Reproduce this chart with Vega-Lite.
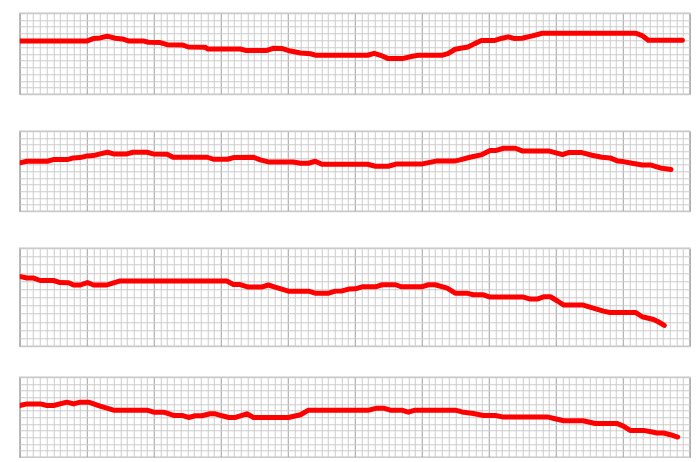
{
  "$schema": "https://vega.github.io/schema/vega-lite/v6.json",
  "padding": {"left": 18.75, "top": 12.25, "right": 0, "bottom": 0},
  "background": "white",
  "config": {
    "view": {"stroke": "#c4c4c4", "strokeWidth": 1.5},
    "axis": {"labels": false, "ticks": false, "domain": false, "title": null, "grid": true, "gridWidth": 1, "gridOpacity": 1, "tickSize": 0, "labelPadding": 0, "minExtent": 0, "maxExtent": 0, "offset": 0}
  },
  "datasets": {
    "p1": [
      {"t": 0, "v": 7.9}, {"t": 10.07, "v": 7.9}, {"t": 10.97, "v": 8.25}, {"t": 12.0, "v": 8.35}, {"t": 13.06, "v": 8.6}, {"t": 14.25, "v": 8.3}, {"t": 15.3, "v": 8.2}, {"t": 16.2, "v": 7.9}, {"t": 18.4, "v": 7.9}, {"t": 19.2, "v": 7.7}, {"t": 20.97, "v": 7.65}, {"t": 22.0, "v": 7.35}, {"t": 24.25, "v": 7.3}, {"t": 25.15, "v": 7.0}, {"t": 27.7, "v": 6.95}, {"t": 28.1, "v": 6.7}, {"t": 32.9, "v": 6.7}, {"t": 33.7, "v": 6.5}, {"t": 36.9, "v": 6.5}, {"t": 37.8, "v": 6.8}, {"t": 39.2, "v": 6.77}, {"t": 40.4, "v": 6.4}, {"t": 41.9, "v": 6.1}, {"t": 43.4, "v": 6.0}, {"t": 44.1, "v": 5.78}, {"t": 51.9, "v": 5.78}, {"t": 52.9, "v": 6.07}, {"t": 54.1, "v": 5.68}, {"t": 55.0, "v": 5.28}, {"t": 57.1, "v": 5.28}, {"t": 58.6, "v": 5.63}, {"t": 59.5, "v": 5.78}, {"t": 63.1, "v": 5.78}, {"t": 63.9, "v": 6.03}, {"t": 65.0, "v": 6.67}, {"t": 66.0, "v": 6.86}, {"t": 66.9, "v": 7.0}, {"t": 67.9, "v": 7.5}, {"t": 68.9, "v": 7.95}, {"t": 70.8, "v": 7.95}, {"t": 72.0, "v": 8.3}, {"t": 72.9, "v": 8.5}, {"t": 73.9, "v": 8.25}, {"t": 74.99, "v": 8.3}, {"t": 76.5, "v": 8.65}, {"t": 77.99, "v": 9.04}, {"t": 91.9, "v": 9.04}, {"t": 92.9, "v": 8.7}, {"t": 93.8, "v": 8.0}, {"t": 98.9, "v": 8.0}
    ],
    "p2": [
      {"t": 0, "v": 7.26}, {"t": 1.1, "v": 7.5}, {"t": 4.1, "v": 7.5}, {"t": 5.0, "v": 7.75}, {"t": 7.1, "v": 7.75}, {"t": 8.0, "v": 8.0}, {"t": 9.0, "v": 8.05}, {"t": 10.1, "v": 8.3}, {"t": 11.0, "v": 8.35}, {"t": 12.0, "v": 8.6}, {"t": 13.1, "v": 8.85}, {"t": 14.0, "v": 8.6}, {"t": 16.0, "v": 8.6}, {"t": 16.9, "v": 8.85}, {"t": 19.0, "v": 8.85}, {"t": 19.9, "v": 8.6}, {"t": 22.0, "v": 8.55}, {"t": 22.9, "v": 8.1}, {"t": 28.0, "v": 8.1}, {"t": 28.9, "v": 7.8}, {"t": 31.0, "v": 7.8}, {"t": 31.9, "v": 8.05}, {"t": 34.9, "v": 8.1}, {"t": 35.9, "v": 7.7}, {"t": 37.1, "v": 7.4}, {"t": 40.8, "v": 7.4}, {"t": 41.9, "v": 7.2}, {"t": 43.1, "v": 7.2}, {"t": 44.1, "v": 7.5}, {"t": 45.1, "v": 7.05}, {"t": 51.9, "v": 7.05}, {"t": 53.1, "v": 6.75}, {"t": 55.0, "v": 6.75}, {"t": 56.3, "v": 7.1}, {"t": 60.1, "v": 7.1}, {"t": 62.3, "v": 7.55}, {"t": 65.0, "v": 7.55}, {"t": 65.7, "v": 7.7}, {"t": 67.2, "v": 8.1}, {"t": 69.0, "v": 8.5}, {"t": 70.2, "v": 9.1}, {"t": 71.0, "v": 9.1}, {"t": 72.2, "v": 9.45}, {"t": 73.96, "v": 9.45}, {"t": 75.0, "v": 9.05}, {"t": 78.9, "v": 9.05}, {"t": 79.9, "v": 8.8}, {"t": 81.0, "v": 8.5}, {"t": 81.9, "v": 8.8}, {"t": 83.9, "v": 8.8}, {"t": 85.4, "v": 8.4}, {"t": 86.9, "v": 8.1}, {"t": 88.1, "v": 8.0}, {"t": 89.2, "v": 7.55}, {"t": 90.1, "v": 7.45}, {"t": 91.4, "v": 7.2}, {"t": 92.9, "v": 6.95}, {"t": 94.1, "v": 6.95}, {"t": 95.6, "v": 6.5}, {"t": 97.2, "v": 6.25}
    ],
    "p3": [
      {"t": 0, "v": 8.55}, {"t": 1.07, "v": 8.35}, {"t": 2.06, "v": 8.35}, {"t": 3.06, "v": 8.05}, {"t": 5.04, "v": 8.05}, {"t": 6.04, "v": 7.8}, {"t": 7.3, "v": 7.78}, {"t": 8.03, "v": 7.5}, {"t": 9.03, "v": 7.5}, {"t": 10.1, "v": 7.8}, {"t": 11.0, "v": 7.5}, {"t": 13.0, "v": 7.5}, {"t": 14.0, "v": 7.77}, {"t": 15.0, "v": 8.0}, {"t": 30.9, "v": 8.0}, {"t": 31.9, "v": 7.57}, {"t": 32.9, "v": 7.55}, {"t": 34.1, "v": 7.25}, {"t": 36.1, "v": 7.25}, {"t": 37.1, "v": 7.5}, {"t": 38.1, "v": 7.25}, {"t": 39.1, "v": 7.0}, {"t": 40.1, "v": 6.75}, {"t": 43.1, "v": 6.75}, {"t": 44.1, "v": 6.5}, {"t": 46.1, "v": 6.5}, {"t": 47.1, "v": 6.75}, {"t": 48.1, "v": 6.77}, {"t": 49.1, "v": 7.0}, {"t": 50.1, "v": 7.03}, {"t": 51.1, "v": 7.28}, {"t": 53.1, "v": 7.28}, {"t": 54.1, "v": 7.53}, {"t": 56.1, "v": 7.53}, {"t": 57.0, "v": 7.28}, {"t": 60.0, "v": 7.28}, {"t": 61.0, "v": 7.53}, {"t": 62.0, "v": 7.53}, {"t": 63.8, "v": 7.12}, {"t": 65.0, "v": 6.5}, {"t": 66.7, "v": 6.5}, {"t": 67.7, "v": 6.3}, {"t": 69.2, "v": 6.3}, {"t": 70.2, "v": 6.02}, {"t": 75.2, "v": 6.02}, {"t": 76.2, "v": 5.78}, {"t": 77.2, "v": 5.78}, {"t": 78.2, "v": 6.06}, {"t": 79.2, "v": 6.06}, {"t": 80.2, "v": 5.57}, {"t": 81.2, "v": 5.04}, {"t": 84.1, "v": 5.04}, {"t": 85.6, "v": 4.68}, {"t": 87.1, "v": 4.3}, {"t": 88.1, "v": 4.14}, {"t": 91.9, "v": 4.14}, {"t": 92.9, "v": 3.61}, {"t": 94.6, "v": 3.28}, {"t": 95.3, "v": 3.0}, {"t": 96.2, "v": 2.55}
    ],
    "p4": [
      {"t": 0, "v": 7.76}, {"t": 1.07, "v": 8.0}, {"t": 3.06, "v": 8.0}, {"t": 4.06, "v": 7.76}, {"t": 5.04, "v": 7.76}, {"t": 7.04, "v": 8.26}, {"t": 8.03, "v": 8.0}, {"t": 9.03, "v": 8.26}, {"t": 10.27, "v": 8.26}, {"t": 12.0, "v": 7.66}, {"t": 13.0, "v": 7.36}, {"t": 14.0, "v": 7.06}, {"t": 19.0, "v": 7.06}, {"t": 20.0, "v": 6.76}, {"t": 21.5, "v": 6.76}, {"t": 22.96, "v": 6.27}, {"t": 24.2, "v": 6.27}, {"t": 25.2, "v": 5.97}, {"t": 26.2, "v": 6.22}, {"t": 27.2, "v": 6.22}, {"t": 28.4, "v": 6.52}, {"t": 29.2, "v": 6.52}, {"t": 30.2, "v": 6.22}, {"t": 31.2, "v": 5.97}, {"t": 32.2, "v": 5.97}, {"t": 33.9, "v": 6.52}, {"t": 34.9, "v": 5.97}, {"t": 40.1, "v": 5.97}, {"t": 41.9, "v": 6.37}, {"t": 43.1, "v": 7.06}, {"t": 52.1, "v": 7.06}, {"t": 53.3, "v": 7.36}, {"t": 54.3, "v": 7.36}, {"t": 55.3, "v": 7.06}, {"t": 57.0, "v": 7.06}, {"t": 58.0, "v": 6.76}, {"t": 59.0, "v": 7.06}, {"t": 65.0, "v": 7.06}, {"t": 66.0, "v": 6.8}, {"t": 67.7, "v": 6.57}, {"t": 69.2, "v": 6.27}, {"t": 71.0, "v": 6.27}, {"t": 72.2, "v": 6.02}, {"t": 78.9, "v": 6.02}, {"t": 79.9, "v": 5.77}, {"t": 81.2, "v": 5.47}, {"t": 84.1, "v": 5.47}, {"t": 85.9, "v": 5.07}, {"t": 89.1, "v": 5.07}, {"t": 90.1, "v": 4.68}, {"t": 91.1, "v": 4.03}, {"t": 93.1, "v": 4.03}, {"t": 94.4, "v": 3.78}, {"t": 95.1, "v": 3.63}, {"t": 96.1, "v": 3.63}, {"t": 97.1, "v": 3.38}, {"t": 98.2, "v": 3.03}
    ]
  },
  "spacing": 29,
  "vconcat": [
    {
      "spacing": 37,
      "bounds": "flush",
      "vconcat": [
        {
          "width": 670, "height": 81,
          "data": {"name": "p1"},
          "mark": {"type": "line", "color": "#ff0000", "strokeWidth": 5, "strokeCap": "round", "strokeJoin": "round", "clip": true},
          "encoding": {
            "x": {"field": "t", "type": "quantitative", "scale": {"domain": [0, 100], "nice": false}, "axis": {"values": [0,1,2,3,4,5,6,7,8,9,10,11,12,13,14,15,16,17,18,19,20,21,22,23,24,25,26,27,28,29,30,31,32,33,34,35,36,37,38,39,40,41,42,43,44,45,46,47,48,49,50,51,52,53,54,55,56,57,58,59,60,61,62,63,64,65,66,67,68,69,70,71,72,73,74,75,76,77,78,79,80,81,82,83,84,85,86,87,88,89,90,91,92,93,94,95,96,97,98,99,100], "gridColor": {"condition": {"test": "datum.value % 10 === 0", "value": "#a0a0a0"}, "value": "#cccccc"}}},
            "y": {"field": "v", "type": "quantitative", "scale": {"domain": [0, 12], "nice": false, "zero": false}, "axis": {"values": [0,1,2,3,4,5,6,7,8,9,10,11,12], "gridColor": "#cccccc"}}
          }
        },
        {
          "width": 670, "height": 80,
          "data": {"name": "p2"},
          "mark": {"type": "line", "color": "#ff0000", "strokeWidth": 5, "strokeCap": "round", "strokeJoin": "round", "clip": true},
          "encoding": {
            "x": {"field": "t", "type": "quantitative", "scale": {"domain": [0, 100], "nice": false}, "axis": {"values": [0,1,2,3,4,5,6,7,8,9,10,11,12,13,14,15,16,17,18,19,20,21,22,23,24,25,26,27,28,29,30,31,32,33,34,35,36,37,38,39,40,41,42,43,44,45,46,47,48,49,50,51,52,53,54,55,56,57,58,59,60,61,62,63,64,65,66,67,68,69,70,71,72,73,74,75,76,77,78,79,80,81,82,83,84,85,86,87,88,89,90,91,92,93,94,95,96,97,98,99,100], "gridColor": {"condition": {"test": "datum.value % 10 === 0", "value": "#a0a0a0"}, "value": "#cccccc"}}},
            "y": {"field": "v", "type": "quantitative", "scale": {"domain": [0, 12], "nice": false, "zero": false}, "axis": {"values": [0,1,2,3,4,5,6,7,8,9,10,11,12], "gridColor": "#cccccc"}}
          }
        },
        {
          "width": 670, "height": 98,
          "data": {"name": "p3"},
          "mark": {"type": "line", "color": "#ff0000", "strokeWidth": 5, "strokeCap": "round", "strokeJoin": "round", "clip": true},
          "encoding": {
            "x": {"field": "t", "type": "quantitative", "scale": {"domain": [0, 100], "nice": false}, "axis": {"values": [0,1,2,3,4,5,6,7,8,9,10,11,12,13,14,15,16,17,18,19,20,21,22,23,24,25,26,27,28,29,30,31,32,33,34,35,36,37,38,39,40,41,42,43,44,45,46,47,48,49,50,51,52,53,54,55,56,57,58,59,60,61,62,63,64,65,66,67,68,69,70,71,72,73,74,75,76,77,78,79,80,81,82,83,84,85,86,87,88,89,90,91,92,93,94,95,96,97,98,99,100], "gridColor": {"condition": {"test": "datum.value % 10 === 0", "value": "#a0a0a0"}, "value": "#cccccc"}}},
            "y": {"field": "v", "type": "quantitative", "scale": {"domain": [0, 12], "nice": false, "zero": false}, "axis": {"values": [0,1,2,3,4,5,6,7,8,9,10,11,12], "gridColor": "#cccccc"}}
          }
        }
      ]
    },
    {
      "width": 670, "height": 80,
      "data": {"name": "p4"},
      "mark": {"type": "line", "color": "#ff0000", "strokeWidth": 5, "strokeCap": "round", "strokeJoin": "round", "clip": true},
      "encoding": {
        "x": {"field": "t", "type": "quantitative", "scale": {"domain": [0, 100], "nice": false}, "axis": {"values": [0,1,2,3,4,5,6,7,8,9,10,11,12,13,14,15,16,17,18,19,20,21,22,23,24,25,26,27,28,29,30,31,32,33,34,35,36,37,38,39,40,41,42,43,44,45,46,47,48,49,50,51,52,53,54,55,56,57,58,59,60,61,62,63,64,65,66,67,68,69,70,71,72,73,74,75,76,77,78,79,80,81,82,83,84,85,86,87,88,89,90,91,92,93,94,95,96,97,98,99,100], "gridColor": {"condition": {"test": "datum.value % 10 === 0", "value": "#a0a0a0"}, "value": "#cccccc"}}},
        "y": {"field": "v", "type": "quantitative", "scale": {"domain": [0, 12], "nice": false, "zero": false}, "axis": {"values": [0,1,2,3,4,5,6,7,8,9,10,11,12], "gridColor": "#cccccc"}}
      }
    }
  ]
}
